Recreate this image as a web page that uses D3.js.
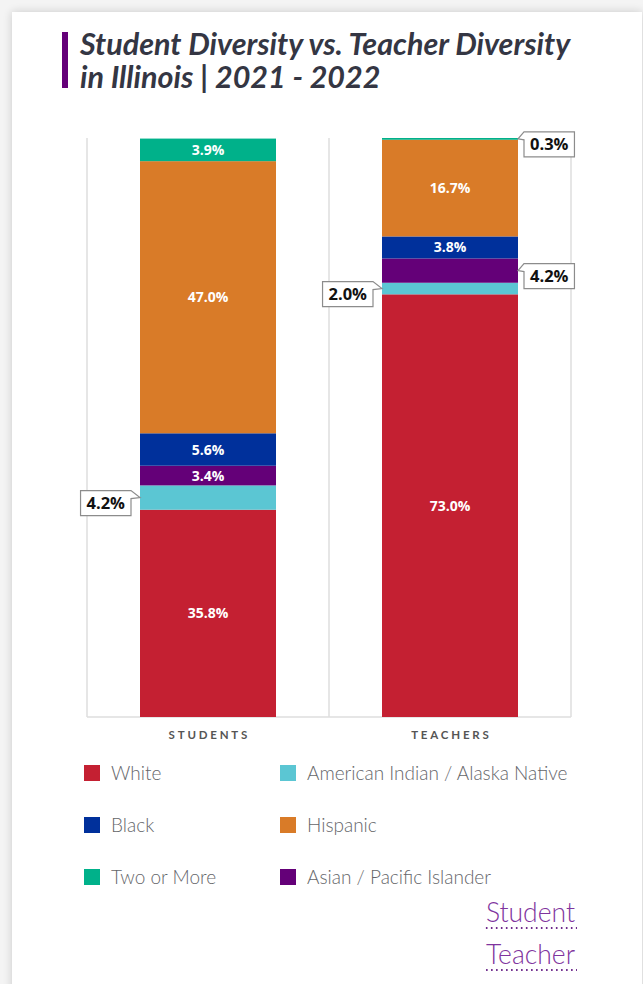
<!DOCTYPE html>
<html>
<head>
<meta charset="utf-8">
<script src="https://cdn.jsdelivr.net/npm/d3@7"></script>
<style>
  html, body { margin: 0; padding: 0; background: #f4f4f4; }
  svg { display: block; }
</style>
</head>
<body>
<svg id="chart" width="643" height="984"></svg>
<script>
// Groups along the x axis
const groups = ["STUDENTS", "TEACHERS"];

// Race / ethnicity series, bottom of the stack first
const series = ["White", "American Indian / Alaska Native", "Asian / Pacific Islander", "Black", "Hispanic", "Two or More"];

// Percent share per group, same order as `series`
const studentValues = [35.8, 4.2, 3.4, 5.6, 47.0, 3.9];
const teacherValues = [73.0, 2.0, 4.2, 3.8, 16.7, 0.3];

const seriesColors = ["#c42032", "#5bc6d3", "#640078", "#00309b", "#d97b28", "#00b18a"];

// Legend layout order (two columns, read row by row)
const legendOrder = ["White", "American Indian / Alaska Native", "Black", "Hispanic", "Two or More", "Asian / Pacific Islander"];

// Segments whose values sit in a callout box beside the bar instead of inside it
const callouts = [
  { group: "STUDENTS", series: "American Indian / Alaska Native", side: "left" },
  { group: "TEACHERS", series: "Two or More", side: "right" },
  { group: "TEACHERS", series: "Asian / Pacific Islander", side: "right" },
  { group: "TEACHERS", series: "American Indian / Alaska Native", side: "left" }
];

const titleLines = ["Student Diversity vs. Teacher Diversity", "in Illinois | 2021 - 2022"];
const linkLabels = ["Student", "Teacher"];

// ---- build stacked data ----
const rows = groups.map((g, i) => {
  const vals = i === 0 ? studentValues : teacherValues;
  const r = { group: g };
  series.forEach((s, j) => r[s] = vals[j]);
  return r;
});
const stacked = d3.stack().keys(series)(rows);

const svg = d3.select("#chart");
const W = 643, H = 984;

// ---- card background with soft shadow ----
const defs = svg.append("defs");
const f = defs.append("filter").attr("id", "shadow").attr("x", "-5%").attr("y", "-5%").attr("width", "110%").attr("height", "110%");
f.append("feGaussianBlur").attr("in", "SourceAlpha").attr("stdDeviation", 5);
f.append("feOffset").attr("dx", 0).attr("dy", 0).attr("result", "b");
f.append("feComponentTransfer").append("feFuncA").attr("type", "linear").attr("slope", 0.18);
const m = f.append("feMerge");
m.append("feMergeNode");
m.append("feMergeNode").attr("in", "SourceGraphic");

svg.append("rect").attr("width", W).attr("height", H).attr("fill", "#f4f4f4");
svg.append("rect").attr("x", 12).attr("y", 12).attr("width", 630).attr("height", 1010)
  .attr("fill", "#ffffff").attr("filter", "url(#shadow)");

// ---- title ----
svg.append("rect").attr("x", 62).attr("y", 32).attr("width", 6).attr("height", 56).attr("fill", "#650079");
const title = svg.append("text")
  .attr("font-family", "Lato, sans-serif").attr("font-weight", 700).attr("font-style", "italic")
  .attr("font-size", 30.5).attr("fill", "#343643");
titleLines.forEach((t, i) => {
  title.append("tspan").attr("x", 80).attr("y", 55 + i * 33).text(t);
});

// ---- scales ----
const x = d3.scaleBand().domain(groups).range([87, 571]).paddingInner(0).paddingOuter(0);
const y = d3.scaleLinear().domain([0, 100]).range([717, 138]);
const color = d3.scaleOrdinal().domain(series).range(seriesColors);
const barW = 136;
const barX = g => x(g) + (x.bandwidth() - barW) / 2;

// ---- frame: band separators and baseline ----
const frame = svg.append("g").attr("stroke", "#dedede").attr("stroke-width", 1.5).attr("fill", "none");
[...groups.map(g => x(g)), x.range()[1]].forEach(xx => {
  frame.append("line").attr("x1", xx).attr("x2", xx).attr("y1", y(100)).attr("y2", y(0));
});
frame.append("line").attr("x1", x.range()[0]).attr("x2", x.range()[1]).attr("y1", y(0)).attr("y2", y(0));

// ---- bars ----
const layers = svg.append("g").selectAll("g").data(stacked).join("g")
  .attr("fill", d => color(d.key));
layers.selectAll("rect").data(d => d.map(p => ({ key: d.key, p }))).join("rect")
  .attr("x", d => barX(d.p.data.group))
  .attr("width", barW)
  .attr("y", d => y(d.p[1]))
  .attr("height", d => y(d.p[0]) - y(d.p[1]));

// ---- value labels ----
const isCallout = (g, s) => callouts.some(c => c.group === g && c.series === s);
const fmt = v => d3.format(".1f")(v) + "%";

const inside = [];
stacked.forEach(layer => layer.forEach(p => {
  if (!isCallout(p.data.group, layer.key)) inside.push({ g: p.data.group, s: layer.key, p });
}));
svg.append("g").selectAll("text").data(inside).join("text")
  .attr("x", d => barX(d.g) + barW / 2)
  .attr("y", d => (y(d.p[0]) + y(d.p[1])) / 2)
  .attr("dy", "0.36em")
  .attr("text-anchor", "middle")
  .attr("font-family", "'Open Sans', sans-serif").attr("font-weight", 700).attr("font-size", 14)
  .attr("fill", "#ffffff")
  .text(d => fmt(d.p.data[d.s]));

// callout boxes with a pointer tail towards the segment
const cg = svg.append("g");
callouts.forEach(c => {
  const layer = stacked.find(l => l.key === c.series);
  const p = layer.find(q => q.data.group === c.group);
  const tipY = (y(p[0]) + y(p[1])) / 2;
  const left = c.side === "left";
  const tipX = left ? barX(c.group) : barX(c.group) + barW;
  const label = fmt(p.data[c.series]);
  const t = cg.append("text")
    .attr("font-family", "'Open Sans', sans-serif").attr("font-weight", 700).attr("font-size", 16.5)
    .attr("fill", "#111").attr("text-anchor", "middle").text(label);
  const tw = t.node().getComputedTextLength();
  const bw = tw + 12, bh = 25;
  const gap = left ? 9 : 6;
  const bx = left ? tipX - gap - bw : tipX + gap;
  const by = tipY - 7;
  let path;
  if (left) {
    path = `M${bx},${by} H${bx + bw} L${tipX},${tipY} L${bx + bw},${by + 8} V${by + bh} H${bx} Z`;
  } else {
    path = `M${bx},${by} H${bx + bw} V${by + bh} H${bx} V${by + 8} L${tipX},${tipY} Z`;
  }
  cg.insert("path", "text").attr("d", path).attr("fill", "#ffffff").attr("stroke", "#8c8c8c").attr("stroke-width", 1.2);
  t.attr("x", bx + bw / 2).attr("y", by + bh / 2).attr("dy", "0.36em");
});

// ---- x axis labels ----
svg.append("g").selectAll("text").data(groups).join("text")
  .attr("x", g => x(g) + x.bandwidth() / 2 + 1.4)
  .attr("y", 739)
  .attr("text-anchor", "middle")
  .attr("font-family", "Lato, sans-serif").attr("font-weight", 700).attr("font-size", 11.5)
  .attr("letter-spacing", 2.8)
  .attr("fill", "#555555")
  .text(g => g);

// ---- legend ----
const legend = svg.append("g");
legendOrder.forEach((s, i) => {
  const col = i % 2, row = Math.floor(i / 2);
  const lx = col === 0 ? 84 : 280;
  const ly = 765 + row * 52;
  legend.append("rect").attr("x", lx).attr("y", ly).attr("width", 16).attr("height", 16).attr("fill", color(s));
  legend.append("text").attr("x", lx + 27).attr("y", ly + 15)
    .attr("font-family", "Lato, sans-serif").attr("font-weight", 300).attr("font-size", 19)
    .attr("fill", "#65666a").text(s);
});

// ---- links ----
const links = svg.append("g");
linkLabels.forEach((t, i) => {
  const baseY = 922 + i * 42;
  const tx = links.append("text").attr("x", 575).attr("y", baseY).attr("text-anchor", "end")
    .attr("font-family", "Lato, sans-serif").attr("font-weight", 300).attr("font-size", 26.5)
    .attr("fill", "#7f349e").text(t);
  const w = tx.node().getComputedTextLength();
  links.append("line").attr("x1", 575 - w).attr("x2", 577).attr("y1", baseY + 6).attr("y2", baseY + 6)
    .attr("stroke", "#6e2a8c").attr("stroke-width", 2).attr("stroke-dasharray", "1.6,3.4");
});
</script>
</body>
</html>
